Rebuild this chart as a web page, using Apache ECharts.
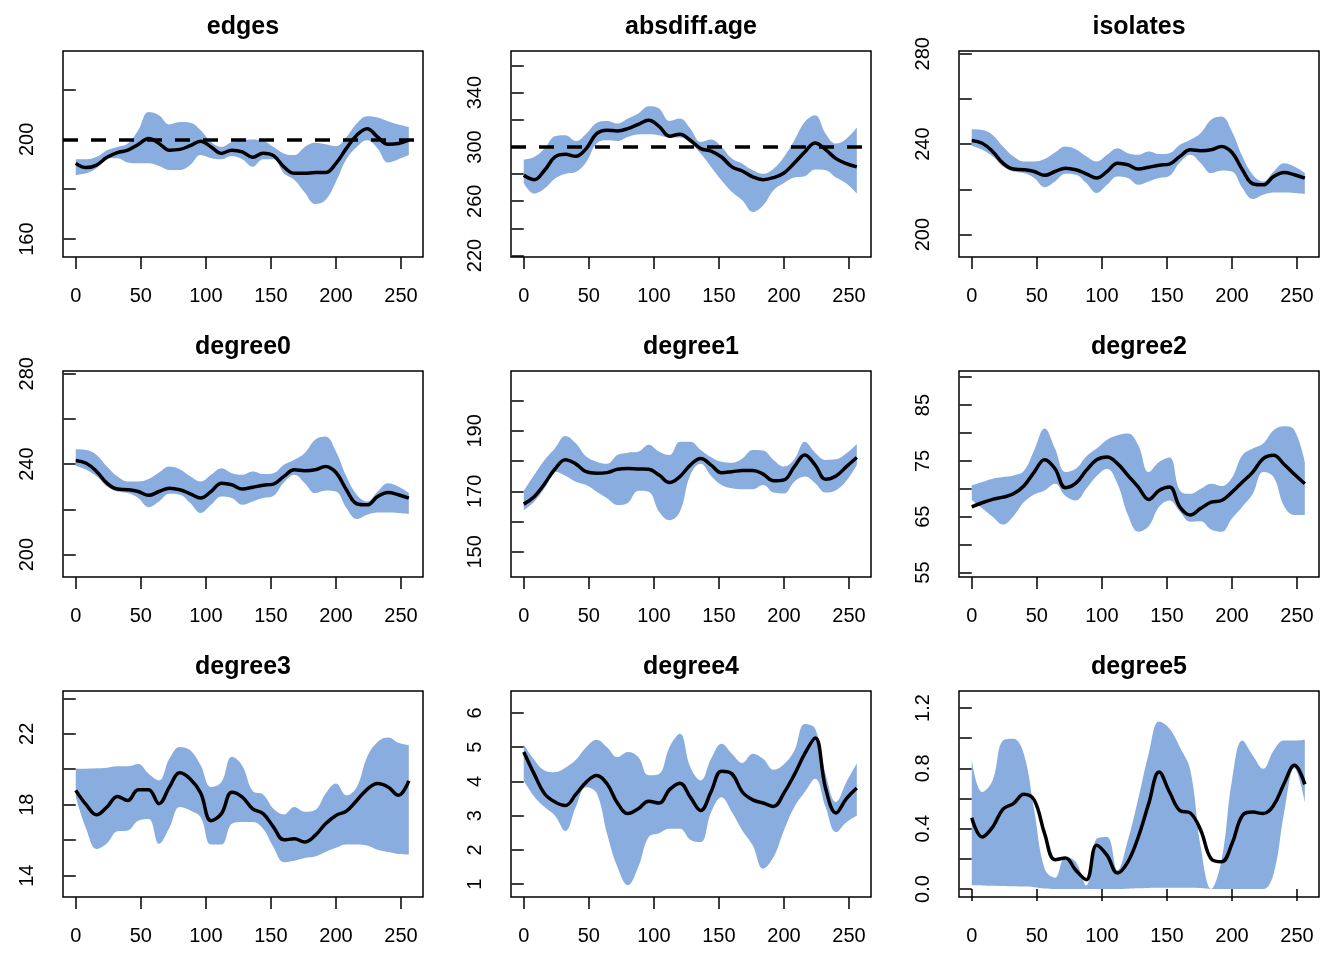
<!DOCTYPE html>
<html>
<head>
<meta charset="utf-8">
<script src="https://cdn.jsdelivr.net/npm/echarts@6/dist/echarts.min.js"></script>
<style>html,body{margin:0;padding:0;background:#fff}#c{width:1344px;height:960px}</style>
</head>
<body>
<div id="c"></div>
<script>
// ---------------- data ----------------
const steps = [0,8,16,24,32,40,48,56,64,72,80,88,96,104,112,120,128,136,144,152,160,168,176,184,192,200,208,216,224,232,240,248,256];
const xTicks = [0,50,100,150,200,250];

const titles = ['edges','absdiff.age','isolates','degree0','degree1','degree2','degree3','degree4','degree5'];

const edgesMean  = [190.4,188.7,189.7,192.8,194.7,195.7,198,200.4,198.4,195.7,196,197.5,199.3,197,194.4,195.7,195,192.8,194.5,193.5,189,186.4,186.4,186.7,186.7,190.4,196.4,201.7,204.3,201,198.1,198.4,199.7];
const edgesUpper = [192,192,193,195.7,197,198.4,203.7,211,209.7,206,207,206.7,203.7,199,197,199,199.7,200,199.5,197,194.4,193.7,197,198.7,198.1,197.3,201,206.4,209.3,208.8,207.3,206,205];
const edgesLower = [185.7,186.4,188.4,192.4,192.4,190.7,190.4,190.4,189.3,187.7,187.7,189.7,193.7,192.4,192,193.3,192,189,192,192,186.4,183.7,178.7,174.1,175.7,183,192,197,199.7,196.4,190.7,192,193.7];

const absMean  = [279.1,275.9,282.8,292.6,294.6,293.1,298.8,309.8,312.3,311.8,313.5,316.7,319.7,315.2,307.9,309.3,304.9,298.8,297,292.6,285.3,282.3,277.9,275.9,277.4,280.8,288.2,296.3,302.9,298,291.4,287.7,285.3];
const absUpper = [290.7,292.6,298.8,307.9,308.6,304.4,309.8,317.7,319.2,317.2,320.9,324.6,330,328.3,319.2,320.9,313.5,303.7,305.4,300,291.4,287.7,282.8,280.3,284,292.6,304.9,318.4,323.3,309.8,302.5,306.1,314.3];
const absLower = [273.5,265.6,269.3,276.7,280.3,281.6,288.9,302.5,304.9,304.4,307.4,309.1,309.3,308.6,306.9,306.9,302.9,295.1,285.3,275.4,266.8,260.7,252.1,256.9,268.1,273.5,277.4,278.4,283.3,282.8,277.4,273,265.6];

const isoMean  = [241.6,240.4,236.8,231.6,229,228.7,227.9,226.2,227.9,229.4,228.7,226.9,225,227.9,231.6,230.9,229,229.8,230.7,231.2,234.6,237.5,237.1,237.5,239,236.3,228.7,222.5,222,225.7,227.5,226.5,225];
const isoUpper = [246.6,246.3,244.1,239,234.6,232.3,232.3,233.4,236.3,239,237.8,234.6,232.3,235.3,238.2,236,235.3,236.8,235.6,236,239.7,241.9,244.9,250.8,252.2,245.6,234.6,226.5,223.5,227.9,231.6,230.1,227.2];
const isoLower = [239.3,237.5,234.6,230.1,227.9,227.2,225,221,223.5,226.9,226.5,222.8,218.4,222,225.7,225,222,223.5,225,226,231.9,235.3,231.6,227.2,228.4,227.9,220.6,215.7,217.6,218.6,218.6,218.4,217.9];

const deg0Mean  = [241.6,240.4,236.8,231.6,229,228.7,227.9,226.2,227.9,229.4,228.7,226.9,225,227.9,231.6,230.9,229,229.8,230.7,231.2,234.6,237.5,237.1,237.5,239,236.3,228.7,222.5,222,225.7,227.5,226.5,225];
const deg0Upper = [246.6,246.3,244.1,239,234.6,232.3,232.3,233.4,236.3,239,237.8,234.6,232.3,235.3,238.2,236,235.3,236.8,235.6,236,239.7,241.9,244.9,250.8,252.2,245.6,234.6,226.5,223.5,227.9,231.6,230.1,227.2];
const deg0Lower = [239.3,237.5,234.6,230.1,227.9,227.2,225,221,223.5,226.9,226.5,222.8,218.4,222,225.7,225,222,223.5,225,226,231.9,235.3,231.6,227.2,228.4,227.9,220.6,215.7,217.6,218.6,218.6,218.4,217.9];

const deg1Mean  = [165.8,168.2,172.5,177.4,180.5,179.1,176.5,176,176.2,177.3,177.6,177.4,177.3,175.4,172.9,174.9,178.7,180.9,178.7,176.2,176.5,176.9,176.9,175.7,173.5,173.8,178.2,182,178.7,174,175.1,178.2,181.2];
const deg1Upper = [170.2,175.4,180.4,184.3,188.3,185.9,181.5,179.8,179.1,182,182.8,183.1,185.4,183.1,182,186.4,186.4,183.7,181.3,179.8,179.5,180.9,183.7,183.5,180.4,178.2,180.6,186.4,182.8,180.4,180.6,182.6,185.7];
const deg1Lower = [163.8,166.6,171,176.5,175.2,173.2,172.1,169.9,167.7,165.5,166.2,170.2,169.9,163.3,160.5,163.3,175.4,179.1,175.1,172.1,171,170.7,170.7,172.1,169.6,169.3,173.2,174.9,172.7,169.6,170.4,173.5,178.7];

const deg2Mean  = [66.75,67.5,68.1,68.5,69.1,70.5,73,75.2,73.6,70.2,71,73.3,75.2,75.7,74.5,72.4,70.3,68.1,69.7,70.3,66.75,65.3,66.5,67.6,67.9,69.4,71.2,73,75.4,76,74.4,72.6,70.9];
const deg2Upper = [70.6,71.2,71.8,72.1,72.4,73.2,76.9,80.8,77.2,73,73.6,75.8,77.2,78.8,79.6,79.9,77.8,73,74.8,75.6,69.7,69.1,70,70.9,70.5,72,76,77.2,78.1,80.5,81.2,80.5,74.8];
const deg2Lower = [68,66.5,65,63.6,65.1,67.6,69,69.7,70.9,68.7,67.9,70,72.3,73.6,70.9,65.3,62.3,63.3,66.8,67.9,65.9,64.1,64.2,62.7,62.3,64.7,66.8,69.1,73,72.1,66.9,65.3,65.3];

const deg3Mean  = [18.81,18.0,17.43,17.87,18.47,18.24,18.85,18.85,18.06,19.0,19.8,19.45,18.66,17.1,17.5,18.7,18.43,17.77,17.5,16.74,16.02,16.08,15.9,16.27,16.93,17.4,17.64,18.24,18.87,19.19,19,18.53,19.34];
const deg3Upper = [20.03,20.03,20.05,20.09,20.17,20.17,20.3,19.75,19.37,20.6,21.26,21.07,20.22,19.0,19.28,20.7,20.2,18.77,18.58,17.77,17.45,17.87,17.6,17.7,18.62,19.19,18.53,19.0,20.7,21.54,21.79,21.49,21.35];
const deg3Lower = [18.43,16.64,15.5,15.83,16.5,16.55,17.1,17.2,15.8,16.7,17.87,17.68,17.3,15.76,15.76,16.93,17.02,17.02,16.64,15.6,14.76,14.85,15.0,15.08,15.33,15.57,15.76,15.76,15.7,15.46,15.33,15.23,15.2];

const deg4Mean  = [4.86,4.22,3.64,3.4,3.3,3.62,3.98,4.17,3.93,3.37,3.06,3.2,3.42,3.37,3.76,3.95,3.54,3.15,3.7,4.3,4.22,3.69,3.46,3.37,3.27,3.66,4.2,4.81,5.27,3.8,3.08,3.5,3.81];
const deg4Upper = [5.08,4.63,4.32,4.27,4.4,4.63,5.0,5.22,5.0,4.71,4.86,4.71,4.18,4.22,5.0,5.39,4.42,4.03,4.66,5.1,4.81,4.54,4.81,4.66,4.34,4.5,4.9,5.68,5.54,4.22,3.4,3.98,4.52];
const deg4Lower = [4.03,3.56,3.25,3.0,2.55,3.25,3.83,3.66,2.47,1.5,0.97,1.5,2.38,2.49,2.62,2.62,2.3,2.23,3.1,3.54,3.1,2.57,2.13,1.45,1.79,2.57,3.25,3.69,4.08,3.25,2.52,2.81,3.0];

const deg5Mean  = [0.473,0.345,0.41,0.53,0.566,0.628,0.59,0.367,0.194,0.205,0.124,0.062,0.29,0.223,0.106,0.18,0.345,0.566,0.776,0.643,0.52,0.504,0.39,0.2,0.18,0.3,0.488,0.51,0.5,0.555,0.698,0.82,0.694];
const deg5Upper = [0.857,0.643,0.72,0.985,0.997,0.897,0.52,0.135,0.075,0.212,0.179,0.024,0.334,0.345,0.124,0.323,0.6,0.897,1.11,1.063,0.94,0.787,0.278,0.0,0.19,0.72,0.985,0.886,0.798,0.919,0.985,0.985,0.99];
const deg5Lower = [0.025,0.024,0.022,0.02,0.018,0.016,0.012,0.003,0,0,0,0,0,0,0,0.002,0.005,0.007,0.008,0.008,0.008,0.008,0.006,0,0,0,0,0,0,0.1,0.5,0.8,0.577];

const yTicks = [
  [160,180,200,220],
  [220,240,260,280,300,320,340,360],
  [200,220,240,260,280],
  [200,220,240,260,280],
  [150,160,170,180,190,200],
  [55,60,65,70,75,80,85,90],
  [14,16,18,20,22,24],
  [1,2,3,4,5,6],
  [0,0.2,0.4,0.6,0.8,1.0,1.2]
];
const yLabels = [
  [160,200],
  [220,260,300,340],
  [200,240,280],
  [200,240,280],
  [150,170,190],
  [55,65,75,85],
  [14,18,22],
  [1,2,3,4,5,6],
  [0,0.4,0.8,1.2]
];
const yRanges = [
  [152.8,235.5],[218.9,370.7],[190.1,281.2],
  [190.1,281.2],[141.7,209.8],[54.2,91.1],
  [12.8,24.41],[0.625,6.64],[-0.053,1.313]
];
const targets = [200,300,null,null,null,null,null,null,null];

const means  = [edgesMean,absMean,isoMean,deg0Mean,deg1Mean,deg2Mean,deg3Mean,deg4Mean,deg5Mean];
const uppers = [edgesUpper,absUpper,isoUpper,deg0Upper,deg1Upper,deg2Upper,deg3Upper,deg4Upper,deg5Upper];
const lowers = [edgesLower,absLower,isoLower,deg0Lower,deg1Lower,deg2Lower,deg3Lower,deg4Lower,deg5Lower];

// ---------------- chart ----------------
const FONT = '"Liberation Sans", Helvetica, Arial, sans-serif';
const FILL = '#8AADE0';
const SMOOTH = 0.4;
const grids = [], xAxes = [], yAxes = [], series = [], graphics = [];

for (let i = 0; i < 9; i++) {
  const row = Math.floor(i / 3), col = i % 3;
  const gl = 63 + col * 448, gt = 51 + row * 320;
  grids.push({left: gl, top: gt, width: 360, height: 206, show: false, containLabel: false});
  xAxes.push({gridIndex: i, type: 'value', min: -9.8, max: 266.9,
    axisLine: {show: false}, splitLine: {show: false},
    axisTick: {show: true, customValues: xTicks, length: 12, lineStyle: {color: '#000', width: 1.5}},
    axisLabel: {customValues: xTicks, fontSize: 20, color: '#000', margin: 29, fontFamily: FONT}});
  const fmt = (i === 8) ? (v => Number(v).toFixed(1)) : (v => String(v));
  yAxes.push({gridIndex: i, type: 'value', min: yRanges[i][0], max: yRanges[i][1],
    axisLine: {show: false}, splitLine: {show: false},
    axisTick: {show: true, customValues: yTicks[i], length: 12, lineStyle: {color: '#000', width: 1.5}},
    axisLabel: {customValues: yLabels[i], rotate: 90, fontSize: 20, color: '#000', margin: 26,
      fontFamily: FONT, formatter: fmt}});

  // value column first so the stack accumulates on y; x is column 1
  const lowerData = steps.map((s, j) => [lowers[i][j], s]);
  const bandData  = steps.map((s, j) => [uppers[i][j] - lowers[i][j], s]);
  const meanData  = steps.map((s, j) => [s, means[i][j]]);

  series.push({type: 'line', xAxisIndex: i, yAxisIndex: i, data: lowerData,
    encode: {x: 1, y: 0}, stack: 'band' + i,
    symbol: 'none', smooth: SMOOTH, lineStyle: {width: 0, opacity: 0}, silent: true, z: 1});
  series.push({type: 'line', xAxisIndex: i, yAxisIndex: i, data: bandData,
    encode: {x: 1, y: 0}, stack: 'band' + i,
    symbol: 'none', smooth: SMOOTH, lineStyle: {width: 0, opacity: 0},
    areaStyle: {color: FILL, opacity: 1}, silent: true, z: 2});
  const meanSeries = {type: 'line', xAxisIndex: i, yAxisIndex: i, data: meanData,
    symbol: 'none', smooth: SMOOTH, lineStyle: {color: '#000', width: 3.5}, silent: true, z: 4};
  if (targets[i] !== null) {
    meanSeries.markLine = {silent: true, symbol: 'none', animation: false,
      label: {show: false},
      lineStyle: {color: '#000', width: 3.5, type: [15, 13]},
      data: [{yAxis: targets[i]}]};
  }
  series.push(meanSeries);

  graphics.push({type: 'rect', z: 100, silent: true,
    shape: {x: gl, y: gt, width: 360, height: 206},
    style: {fill: 'none', stroke: '#000', lineWidth: 1.5}});
  graphics.push({type: 'text', x: gl + 180, y: 27 + row * 320,
    style: {text: titles[i], fill: '#000', font: 'bold 25px ' + FONT,
      textAlign: 'center', textVerticalAlign: 'middle'}});
}

const chart = echarts.init(document.getElementById('c'), null, {renderer: 'canvas'});
chart.setOption({
  animation: false,
  backgroundColor: '#fff',
  grid: grids, xAxis: xAxes, yAxis: yAxes, series: series, graphic: graphics
});
</script>
</body>
</html>
